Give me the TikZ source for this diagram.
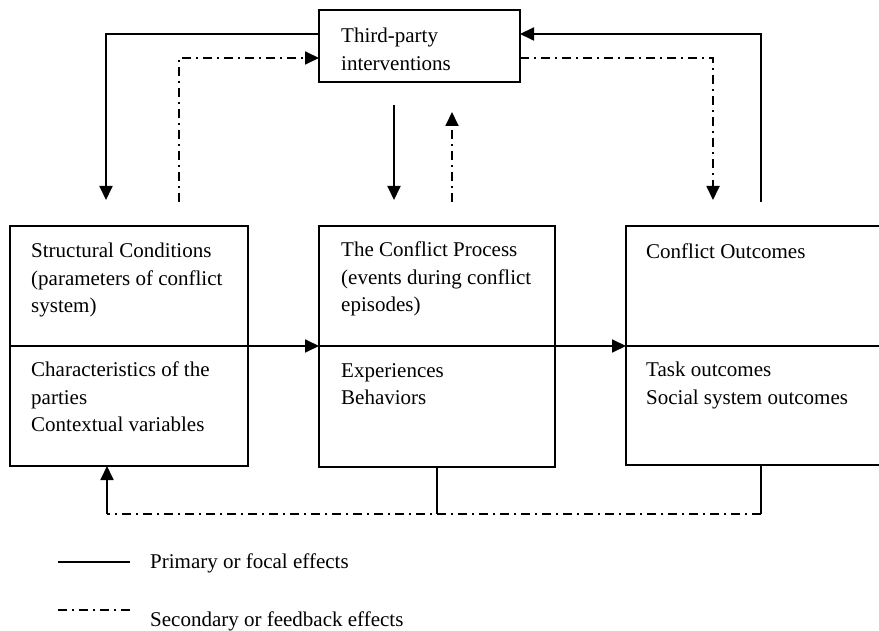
\documentclass[tikz,border=0pt]{standalone}
\usepackage{fontspec}
\setmainfont{Liberation Serif}
\usetikzlibrary{arrows.meta,calc,positioning}
\tikzset{
  box/.style={draw,line width=1.5pt,anchor=north west,inner sep=0pt,outer sep=0pt},
  txt/.style={inner sep=0pt,align=left,font=\fontsize{21}{27.5}\selectfont},
  primary/.style={line width=1.8pt},
  secondary/.style={line width=1.8pt,dash pattern=on 9pt off 5pt on 2pt off 5pt},
  tip/.style={-{Triangle[length=14pt,width=13pt]}}
}
\begin{document}
\begin{tikzpicture}[x=1pt,y=-1pt]
\useasboundingbox (0,0) rectangle (879,631);
\node[box,minimum width=201pt,minimum height=72pt] (third) at (319,10) {};
\node[txt,below right=18pt and 22pt of third.north west] (thirdtxt) {Third-party\\interventions};

\node[box,minimum width=238pt,minimum height=120pt] (struct) at (10,226) {};
\node[box,minimum width=238pt,minimum height=120pt] (structb) at (10,346) {};
\node[box,minimum width=236pt,minimum height=120pt] (proc) at (319,226) {};
\node[box,minimum width=236pt,minimum height=121pt] (procb) at (319,346) {};
\node[box,minimum width=255pt,minimum height=120pt] (out) at (626,226) {};
\node[box,minimum width=255pt,minimum height=119pt] (outb) at (626,346) {};

\node[txt,below right=17pt and 21pt of struct.north west] (structtxt) {Structural Conditions\\(parameters of conflict\\system)};
\node[txt,below right=16pt and 21pt of structb.north west] (structbtxt) {Characteristics of the\\parties\\Contextual variables};
\node[txt,below right=16pt and 22pt of proc.north west] (proctxt) {The Conflict Process\\(events during conflict\\episodes)};
\node[txt,below right=17pt and 22pt of procb.north west] (procbtxt) {Experiences\\Behaviors};
\node[txt,below right=18pt and 20pt of out.north west] (outtxt) {Conflict Outcomes};
\node[txt,below right=16pt and 20pt of outb.north west] (outbtxt) {Task outcomes\\Social system outcomes};

\coordinate (p1) at (106,200);
\coordinate (s1) at (179,202);
\coordinate (p2top) at (394,105);
\coordinate (p2) at (394,200);
\coordinate (s2) at (452,202);
\coordinate (s2top) at (452,112);
\coordinate (s3) at (713,200);
\coordinate (p3) at (761,202);
\coordinate (fbl) at (107,514);
\coordinate (fbr) at (761,514);

\draw[primary,tip] ([yshift=12pt]third.west) -| (p1);
\draw[secondary,tip] (s1) |- ([yshift=-12pt]third.west);
\draw[primary,tip] (p2top) -- (p2);
\draw[secondary,tip] (s2) -- (s2top);
\draw[secondary,tip] ([yshift=-12pt]third.east) -| (s3);
\draw[primary,tip] (p3) |- ([yshift=12pt]third.east);

\draw[primary,tip] (struct.south east) -- (proc.south west);
\draw[primary,tip] (proc.south east) -- (out.south west);

\draw[primary] (procb.south) -- (procb.south |- fbl);
\draw[primary] (fbr |- outb.south) -- (fbr);
\draw[secondary] (fbr) -- (fbl);
\draw[primary,tip] (fbl) -- (fbl |- structb.south);

\node[txt,anchor=base west] (prim) at (150,568) {Primary or focal effects};
\node[txt,anchor=base west] (sec) at (150,626) {Secondary or feedback effects};
\draw[primary] ([xshift=-20pt,yshift=6pt]prim.base west) -- ++(-72,0);
\draw[secondary] ([xshift=-20pt,yshift=16pt]sec.base west) -- ++(-72,0);
\end{tikzpicture}
\end{document}
